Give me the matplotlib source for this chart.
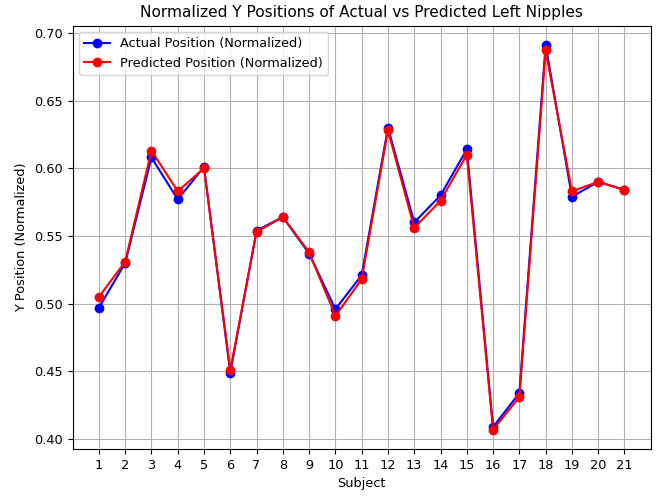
import matplotlib
matplotlib.use("Agg")
import matplotlib.pyplot as plt
import numpy as np

subjects = list(range(1, 22))
actual_y = [0.497, 0.530, 0.608, 0.577, 0.601, 0.449, 0.554, 0.564, 0.537, 0.496,
            0.521, 0.630, 0.560, 0.580, 0.614, 0.409, 0.434, 0.691, 0.579, 0.590, 0.584]
predicted_y = [0.505, 0.531, 0.613, 0.583, 0.600, 0.451, 0.553, 0.564, 0.538, 0.491,
               0.518, 0.628, 0.556, 0.576, 0.610, 0.407, 0.431, 0.687, 0.583, 0.590, 0.584]

plt.rcParams['font.size'] = 9.3
plt.rcParams['axes.titlesize'] = 11.1

fig, ax = plt.subplots(figsize=(6.6, 4.96), dpi=100)

ax.plot(subjects, actual_y, marker='o', color='blue', label='Actual Position (Normalized)')
ax.plot(subjects, predicted_y, marker='o', color='red', label='Predicted Position (Normalized)')

ax.set_title('Normalized Y Positions of Actual vs Predicted Left Nipples')
ax.set_xlabel('Subject')
ax.set_ylabel('Y Position (Normalized)')
ax.set_xticks(subjects)
ax.legend(loc='upper left')
ax.grid(True)

plt.subplots_adjust(left=0.110, right=0.986, bottom=0.095, top=0.948)
plt.savefig('out.png')
